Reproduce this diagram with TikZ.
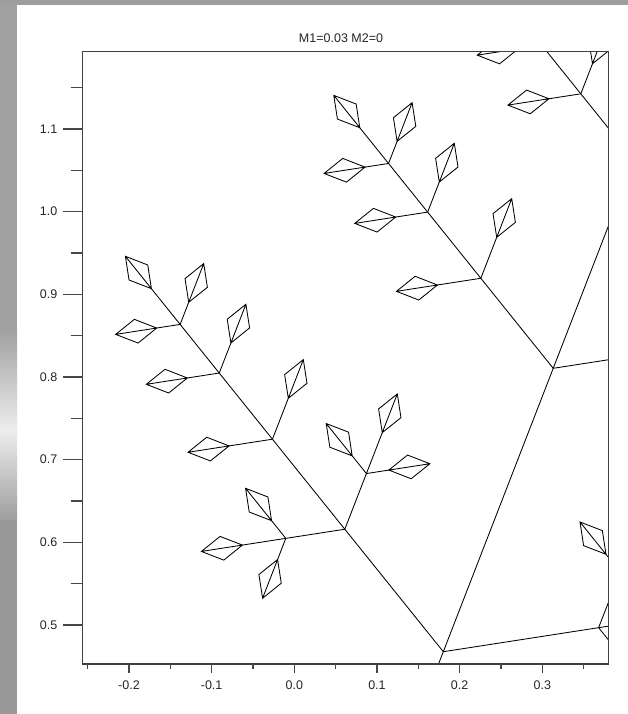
\documentclass[tikz,border=0pt]{standalone}
\usepackage{fontspec}
\newfontfamily\plotfont{Liberation Sans}
\tikzset{
  treeline/.style={draw=black,line width=0.85pt,line join=miter},
  framel/.style={draw=black!75,line width=1.2pt},
  tickl/.style={draw=black!72,line width=1.2pt},
  ticklabel/.style={font=\plotfont\fontsize{12.5}{14}\selectfont,text=black!85,inner sep=0pt},
  titlelabel/.style={font=\plotfont\fontsize{12.5}{14}\selectfont,text=black!85,inner sep=0pt}
}
\newcommand\fleaf[3]{%
 \begingroup
 \pgfmathsetmacro\lfTx{#1+41.5*cos(#3)}%
 \pgfmathsetmacro\lfTy{#2-41.5*sin(#3)}%
 \pgfmathsetmacro\lfAx{#1+20.75*cos(#3)-12*sin(#3)}%
 \pgfmathsetmacro\lfAy{#2-20.75*sin(#3)-12*cos(#3)}%
 \pgfmathsetmacro\lfBx{#1+20.75*cos(#3)+12*sin(#3)}%
 \pgfmathsetmacro\lfBy{#2-20.75*sin(#3)+12*cos(#3)}%
 \draw[treeline] (#1,#2) -- (\lfAx,\lfAy) -- (\lfTx,\lfTy) -- (\lfBx,\lfBy) -- cycle (#1,#2) -- (\lfTx,\lfTy);
 \endgroup}
\newcommand\fbranch[4]{%
 \begingroup
 \pgfmathsetmacro\brX{#1+#4*cos(#3)}%
 \pgfmathsetmacro\brY{#2-#4*sin(#3)}%
 \draw[treeline] (#1,#2) -- (\brX,\brY);
 \ifdim #4pt<52pt
   \fleaf{\brX}{\brY}{#3}%
 \else
   \pgfmathsetmacro\brLc{#4*0.735}%
   \pgfmathsetmacro\brLs{#4*0.38}%
   \pgfmathsetmacro\brAl{#3+60}%
   \pgfmathsetmacro\brAr{#3-60}%
   \edef\brNext{\noexpand\fbranch{\brX}{\brY}{#3}{\brLc}\noexpand\fbranch{\brX}{\brY}{\brAl}{\brLs}\noexpand\fbranch{\brX}{\brY}{\brAr}{\brLs}}%
   \brNext
 \fi
 \endgroup}
\begin{document}
\begin{tikzpicture}[x=1pt,y=-1pt]
\useasboundingbox (0,0) rectangle (628,714);
\fill[white] (0,0) rectangle (628,714);
% grey edges
\fill[black!37] (0,0) rectangle (17,330);
\shade[top color=black!37,bottom color=black!7] (0,330) rectangle (17,430);
\shade[top color=black!7,bottom color=black!38] (0,430) rectangle (17,520);
\fill[black!40] (0,520) rectangle (17,714);
\fill[black!38] (0,0) rectangle (628,5);
% tree
\begin{scope}
\clip (82.7,51.7) rectangle (608.3,664);
\fbranch{293.74}{1037.3}{68.8}{413.6}
\end{scope}
% frame
\draw[framel] (82.7,51.7) rectangle (608.3,664);
% y ticks
\foreach \v/\t [count=\i] in {0.5/0.5,0.6/0.6,0.7/0.7,0.8/0.8,0.9/0.9,1.0/1.0,1.1/1.1}{
  \pgfmathsetmacro\yy{129+(1.1-\v)*826.7}
  \draw[tickl] (63.3,\yy) -- (82.7,\yy);
  \node[ticklabel,anchor=east] (yl\i) at (57.5,\yy) {\t};
}
\foreach \v in {0.55,0.65,0.75,0.85,0.95,1.05,1.15}{
  \pgfmathsetmacro\yy{129+(1.1-\v)*826.7}
  \draw[tickl] (70.7,\yy) -- (82.7,\yy);
}
% x ticks
\foreach \v/\t [count=\i] in {-0.2/-0.2,-0.1/-0.1,0.0/0.0,0.1/0.1,0.2/0.2,0.3/0.3}{
  \pgfmathsetmacro\xx{294.3+\v*826.7}
  \draw[tickl] (\xx,664) -- (\xx,672.7);
  \node[ticklabel] (xl\i) at (\xx,685) {\t};
}
\foreach \v in {-0.25,-0.15,-0.05,0.05,0.15,0.25,0.35}{
  \pgfmathsetmacro\xx{294.3+\v*826.7}
  \draw[tickl] (\xx,664) -- (\xx,668.5);
}
\node[titlelabel] (title) at (341,38.5) {M1=0.03 M2=0};
\end{tikzpicture}
\end{document}
